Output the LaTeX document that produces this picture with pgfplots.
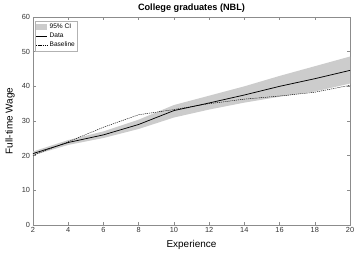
\documentclass[border=0pt]{standalone}
\usepackage{pgfplots}
\pgfplotsset{compat=1.18}
\usepackage{fontspec}
\setmainfont{Liberation Sans}
\pgfplotsset{
  shortline/.style={legend image code/.code={\draw[##1] (0bp,0bp) -- (11bp,0bp);}},
  shortarea/.style={legend image code/.code={\fill[black!20] (0bp,-3bp) rectangle (11bp,3bp);}},
}
\begin{document}
\begin{tikzpicture}[x=1bp,y=1bp]
\begin{axis}[
  at={(0,0)}, anchor=south west,
  scale only axis, width=317bp, height=208bp,
  xmin=2, xmax=20, ymin=0, ymax=60,
  xtick={2,4,...,20}, ytick={0,10,...,60},
  tick align=inside, major tick length=3bp,
  axis line style={draw=black!45, line width=0.4pt}, tick style={draw=black!45, line width=0.4pt},
  tick label style={font=\fontsize{7.4}{8}\selectfont, text=black!80},
  /pgf/number format/assume math mode=true,
  xlabel={Experience}, ylabel={Full-time Wage},
  label style={font=\fontsize{9.2}{10}\selectfont, text=black!85},
  every axis x label/.style={at={(axis description cs:0.5,-0.0938)}, anchor=center},
  every axis y label/.style={at={(axis description cs:-0.0726,0.5)}, anchor=center, rotate=90},
  xticklabel style={yshift=1bp},
  yticklabel style={xshift=0.5bp},
  title={\textbf{College graduates (NBL)}},
  every axis title/.style={at={(axis description cs:0.5,1.043)}, anchor=center, font=\fontsize{9.2}{10}\selectfont},
  legend style={font=\fontsize{6.6}{7}\selectfont, draw=black!30, inner sep=0.8pt, row sep=-1.2pt,
    at={(axis description cs:0.006,0.98)}, anchor=north west},
  legend cell align=left,
]
\addplot[fill=black!20, draw=none, shortarea] coordinates {
(2,21.2)(4,24.5)(6,27.0)(8,30.4)(10,34.6)(12,37.3)(14,40.0)(16,43.0)(18,45.8)(20,48.6)
(20,40.8)(18,38.5)(16,37.0)(14,35.3)(12,33.3)(10,31.0)(8,27.7)(6,25.1)(4,23.1)(2,20.1)} -- cycle;
\addlegendentry{95\% CI}
\addplot[black, line width=0.75pt, shortline] coordinates {
(2,20.6)(4,23.8)(6,26.0)(8,29.0)(10,33.0)(12,35.2)(14,37.5)(16,40.0)(18,42.2)(20,44.6)};
\addlegendentry{Data}
\addplot[black, line width=0.45pt, dash pattern=on 1.2pt off 0.9pt, shortline] coordinates {
(2,20.1)(4,24.0)(6,28.2)(8,31.8)(10,33.3)(12,35.0)(14,36.3)(16,37.2)(18,38.3)(20,40.3)};
\addlegendentry{Baseline}
\end{axis}
\pgfresetboundingbox
\path[use as bounding box] (-33bp,-29bp) rectangle (321bp,225bp);
\end{tikzpicture}
\end{document}
